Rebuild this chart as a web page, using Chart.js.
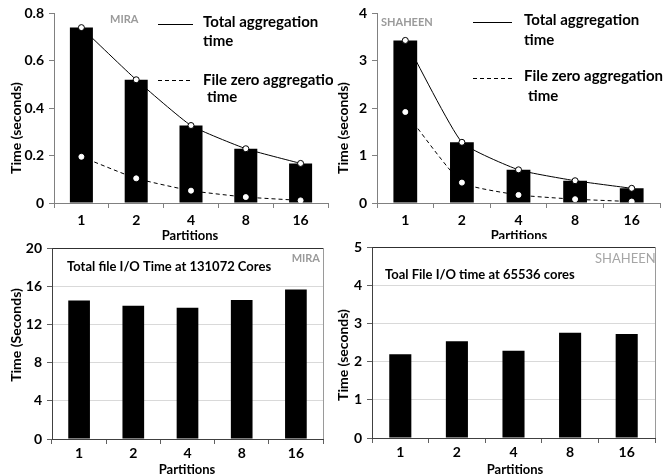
<!DOCTYPE html>
<html>
<head>
<meta charset="utf-8">
<script src="https://cdn.jsdelivr.net/npm/chart.js@4.4.0/dist/chart.umd.min.js"></script>
<style>
  body { margin:0; background:#fff; width:667px; height:475px; position:relative; overflow:hidden; }
  .panel { position:absolute; }
</style>
</head>
<body>
<div class="panel" style="left:0;top:0;width:333px;height:242px"><canvas id="aggMira"></canvas></div>
<div class="panel" style="left:333px;top:0;width:334px;height:239px"><canvas id="aggShaheen"></canvas></div>
<div class="panel" style="left:0;top:230px;width:333px;height:245px"><canvas id="ioMira"></canvas></div>
<div class="panel" style="left:333px;top:230px;width:334px;height:245px"><canvas id="ioShaheen"></canvas></div>
<script>
// ---- data ----
const partitions = ['1', '2', '4', '8', '16'];

const miraTotalAgg = [0.74, 0.52, 0.327, 0.229, 0.167];
const miraFileZeroAgg = [0.195, 0.104, 0.052, 0.025, 0.011];

const shaheenTotalAgg = [3.43, 1.28, 0.70, 0.47, 0.31];
const shaheenFileZeroAgg = [1.92, 0.43, 0.17, 0.08, 0.03];

const miraTotalIO = [14.5, 13.95, 13.75, 14.55, 15.65];
const shaheenTotalIO = [2.19, 2.53, 2.285, 2.755, 2.72];

const FONT = 'Lato, "Liberation Sans", sans-serif';

// draws the free-floating texts / legend swatches for each panel
const notesPlugin = {
  id: 'notes',
  afterDraw(chart, args, opts) {
    const ctx = chart.ctx;
    ctx.save();
    if (opts.rightBorder) {
      const a = chart.chartArea;
      ctx.beginPath();
      ctx.strokeStyle = '#9a9a9a';
      ctx.lineWidth = 1;
      ctx.moveTo(Math.round(a.right) + 0.5, a.top);
      ctx.lineTo(Math.round(a.right) + 0.5, a.bottom);
      ctx.stroke();
    }
    (opts.items || []).forEach(it => {
      if (it.line) {
        ctx.beginPath();
        ctx.strokeStyle = '#000';
        ctx.lineWidth = 1;
        ctx.setLineDash(it.dash || []);
        ctx.moveTo(it.x1, it.y);
        ctx.lineTo(it.x2, it.y);
        ctx.stroke();
        ctx.setLineDash([]);
        return;
      }
      ctx.font = it.font;
      ctx.fillStyle = it.color || '#000';
      ctx.textAlign = it.align || 'left';
      ctx.textBaseline = 'middle';
      if (it.rotate) {
        ctx.save();
        ctx.translate(it.x, it.y);
        ctx.rotate(-Math.PI / 2);
        ctx.textAlign = 'center';
        ctx.fillText(it.text, 0, 0);
        ctx.restore();
      } else {
        ctx.fillText(it.text, it.x, it.y);
      }
    });
    ctx.restore();
  }
};
Chart.register(notesPlugin);

function fixWidth(w) { return s => { s.width = w; }; }
function fixHeight(h) { return s => { s.height = h; }; }

function aggChart(id, total, zero, yMax, step, box, notes, barPct) {
  new Chart(document.getElementById(id), {
    data: {
      labels: partitions,
      datasets: [
        { type: 'line', data: total, borderColor: '#000', borderWidth: 1, pointRadius: 0, tension: 0.15, order: 3 },
        { type: 'line', data: zero, borderColor: '#000', borderWidth: 1, borderDash: [4, 3], pointRadius: 0, tension: 0.15, order: 3 },
        { type: 'bar', data: total, backgroundColor: '#000', barPercentage: barPct, categoryPercentage: 1, order: 2 },
        { type: 'line', data: total, showLine: false, pointRadius: 3, pointBorderWidth: 1,
          pointBackgroundColor: '#fff', pointBorderColor: '#000', order: 1 },
        { type: 'line', data: zero, showLine: false, pointRadius: 2.5, pointBorderWidth: 1,
          pointBackgroundColor: '#fff', pointBorderColor: '#fff', order: 1 }
      ]
    },
    options: {
      responsive: true, maintainAspectRatio: false, animation: false,
      layout: { padding: { top: box.top, right: box.right, left: 0, bottom: 0 } },
      plugins: { legend: { display: false }, tooltip: { enabled: false }, notes: { items: notes } },
      scales: {
        x: {
          offset: true,
          grid: { offset: true, drawOnChartArea: false, tickLength: 5, color: '#808080' },
          border: { color: '#808080' },
          ticks: { color: '#000', padding: 4, font: { family: FONT, weight: 'bold', size: 14 } },
          afterFit: fixHeight(box.xh)
        },
        y: {
          min: 0, max: yMax,
          grid: { drawOnChartArea: false, tickLength: 5, color: '#808080' },
          border: { color: '#808080' },
          ticks: { stepSize: step, color: '#000', padding: 5, font: { family: FONT, weight: 'bold', size: 14 } },
          afterFit: fixWidth(box.yw)
        }
      }
    }
  });
}

function ioChart(id, values, yMax, step, box, notes, barPct) {
  new Chart(document.getElementById(id), {
    type: 'bar',
    data: {
      labels: partitions,
      datasets: [{ data: values, backgroundColor: '#000', barPercentage: barPct, categoryPercentage: 1 }]
    },
    options: {
      responsive: true, maintainAspectRatio: false, animation: false,
      layout: { padding: { top: box.top, right: box.right, left: 0, bottom: 0 } },
      plugins: { legend: { display: false }, tooltip: { enabled: false }, notes: { items: notes, rightBorder: true } },
      scales: {
        x: {
          grid: { offset: true, drawOnChartArea: false, tickLength: 5, color: '#606060' },
          border: { color: '#404040' },
          ticks: { color: '#000', padding: 1, font: { family: FONT, weight: 'bold', size: 14 } },
          afterFit: fixHeight(box.xh)
        },
        y: {
          min: 0, max: yMax,
          grid: {
            tickLength: 5,
            color: c => (c.tick && c.tick.value === yMax) ? '#303030' : '#d9d9d9',
            tickColor: '#606060'
          },
          border: { color: '#404040' },
          ticks: { stepSize: step, color: '#000', padding: 5, font: { family: FONT, weight: 'bold', size: 14 } },
          afterFit: fixWidth(box.yw)
        }
      }
    }
  });
}

const legendFont = 'bold 15px ' + FONT;
const axisTitleFont = 'bold 14px ' + FONT;
const panelTitleFont = 'bold 13px ' + FONT;

aggChart('aggMira', miraTotalAgg, miraFileZeroAgg, 0.8, 0.2,
  { top: 13, right: 5, yw: 54, xh: 39 },
  [
    { text: 'MIRA', x: 110, y: 19, font: 'bold 11px ' + FONT, color: '#9a9a9a' },
    { line: true, x1: 158, x2: 193, y: 24.5 },
    { text: 'Total aggregation', x: 203, y: 22, font: legendFont },
    { text: 'time', x: 203, y: 41, font: legendFont },
    { line: true, x1: 158, x2: 193, y: 80.5, dash: [4, 3] },
    { text: 'File zero aggregation', x: 203, y: 80, font: legendFont },
    { text: 'time', x: 207, y: 97, font: legendFont },
    { text: 'Time (seconds)', x: 16, y: 128, font: axisTitleFont, rotate: true },
    { text: 'Partitions', x: 190, y: 236, font: 'bold 13px ' + FONT, align: 'center' }
  ], 0.42);

aggChart('aggShaheen', shaheenTotalAgg, shaheenFileZeroAgg, 4, 1,
  { top: 13, right: 7, yw: 44, xh: 36 },
  [
    { text: 'SHAHEEN', x: 48, y: 22, font: 'bold 11px ' + FONT, color: '#9a9a9a' },
    { line: true, x1: 140, x2: 179, y: 22.5 },
    { text: 'Total aggregation', x: 191, y: 20, font: legendFont },
    { text: 'time', x: 191, y: 40, font: legendFont },
    { line: true, x1: 140, x2: 179, y: 78.5, dash: [4, 3] },
    { text: 'File zero aggregation', x: 191, y: 76, font: legendFont },
    { text: 'time', x: 195, y: 96, font: legendFont },
    { text: 'Time (seconds)', x: 10, y: 128, font: axisTitleFont, rotate: true },
    { text: 'Partitions', x: 186, y: 236, font: 'bold 13px ' + FONT, align: 'center' }
  ], 0.42);

ioChart('ioMira', miraTotalIO, 20, 4,
  { top: 18, right: 10, yw: 52, xh: 36 },
  [
    { text: 'Total file I/O Time at 131072 Cores', x: 67, y: 37, font: panelTitleFont },
    { text: 'MIRA', x: 320, y: 28, font: 'bold 11px ' + FONT, color: '#9a9a9a', align: 'right' },
    { text: 'Time (Seconds)', x: 16, y: 105, font: axisTitleFont, rotate: true },
    { text: 'Partitions', x: 187, y: 240, font: 'bold 13px ' + FONT, align: 'center' }
  ], 0.40);

ioChart('ioShaheen', shaheenTotalIO, 5, 1,
  { top: 17, right: 12, yw: 39, xh: 37 },
  [
    { text: 'Toal File I/O time at 65536 cores', x: 52, y: 45, font: panelTitleFont },
    { text: 'SHAHEEN', x: 262, y: 29, font: '13px ' + FONT, color: '#a6a6a6', align: 'left' },
    { text: 'Time (seconds)', x: 10, y: 125, font: axisTitleFont, rotate: true },
    { text: 'Partitions', x: 182, y: 240, font: 'bold 13px ' + FONT, align: 'center' }
  ], 0.39);
</script>
</body>
</html>
